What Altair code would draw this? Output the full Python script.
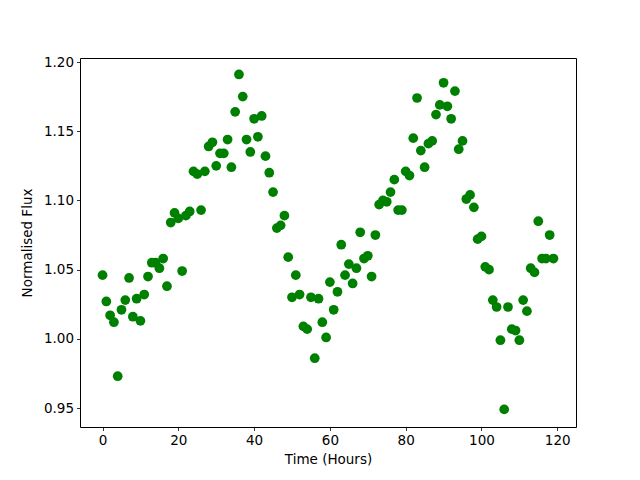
import altair as alt
import pandas as pd

hours = list(range(120))
flux = [
    1.046, 1.027, 1.017, 1.012, 0.973, 1.021, 1.028, 1.044, 1.016, 1.029,
    1.013, 1.032, 1.045, 1.055, 1.055, 1.051, 1.058, 1.038, 1.084, 1.091,
    1.087, 1.049, 1.089, 1.092, 1.121, 1.119, 1.093, 1.121, 1.139, 1.142,
    1.125, 1.134, 1.134, 1.144, 1.124, 1.164, 1.191, 1.175, 1.144, 1.135,
    1.159, 1.146, 1.161, 1.132, 1.120, 1.106, 1.080, 1.082, 1.089, 1.059,
    1.030, 1.046, 1.032, 1.009, 1.007, 1.030, 0.986, 1.029, 1.012, 1.001,
    1.041, 1.021, 1.034, 1.068, 1.046, 1.054, 1.040, 1.051, 1.077, 1.058,
    1.060, 1.045, 1.075, 1.097, 1.100, 1.099, 1.106, 1.115, 1.093, 1.093,
    1.121, 1.118, 1.145, 1.174, 1.136, 1.124, 1.141, 1.143, 1.162, 1.169,
    1.185, 1.168, 1.159, 1.179, 1.137, 1.143, 1.101, 1.104, 1.095, 1.072,
    1.074, 1.052, 1.050, 1.028, 1.023, 0.999, 0.949, 1.023, 1.007, 1.006,
    0.999, 1.028, 1.020, 1.051, 1.048, 1.085, 1.058, 1.058, 1.075, 1.058,
]
x_ticks = [0, 20, 40, 60, 80, 100, 120]
y_ticks = [0.95, 1.00, 1.05, 1.10, 1.15, 1.20]

df = pd.DataFrame({"hours": hours, "flux": flux})

axis_common = dict(
    grid=False,
    domain=False,
    tickColor="black",
    tickWidth=0.8,
    tickSize=3.5,
    labelColor="black",
    labelFontSize=13.5,
    labelFont="DejaVu Sans",
    titleFont="DejaVu Sans",
    titleFontSize=13.5,
    titleFontWeight="normal",
    titleColor="black",
    labelPadding=3,
)

chart = alt.Chart(df).mark_circle(size=95, color="#008000", opacity=1).encode(
    x=alt.X(
        "hours:Q",
        scale=alt.Scale(domain=[-5.95, 124.95], nice=False, zero=False),
        axis=alt.Axis(values=x_ticks, title="Time (Hours)", format="d", titlePadding=5, **axis_common),
    ),
    y=alt.Y(
        "flux:Q",
        scale=alt.Scale(domain=[0.9363, 1.2029], nice=False, zero=False),
        axis=alt.Axis(values=y_ticks, title="Normalised Flux", format=".2f", titlePadding=9, **axis_common),
    ),
).properties(
    width=496,
    height=369,
    background="white",
    autosize=alt.AutoSizeParams(type="none"),
    padding={"left": 72, "top": 50, "right": 56, "bottom": 45},
).configure_view(
    stroke="black",
    strokeWidth=1,
)

chart.save("out.html", embed_options={"renderer": "svg", "actions": False})
